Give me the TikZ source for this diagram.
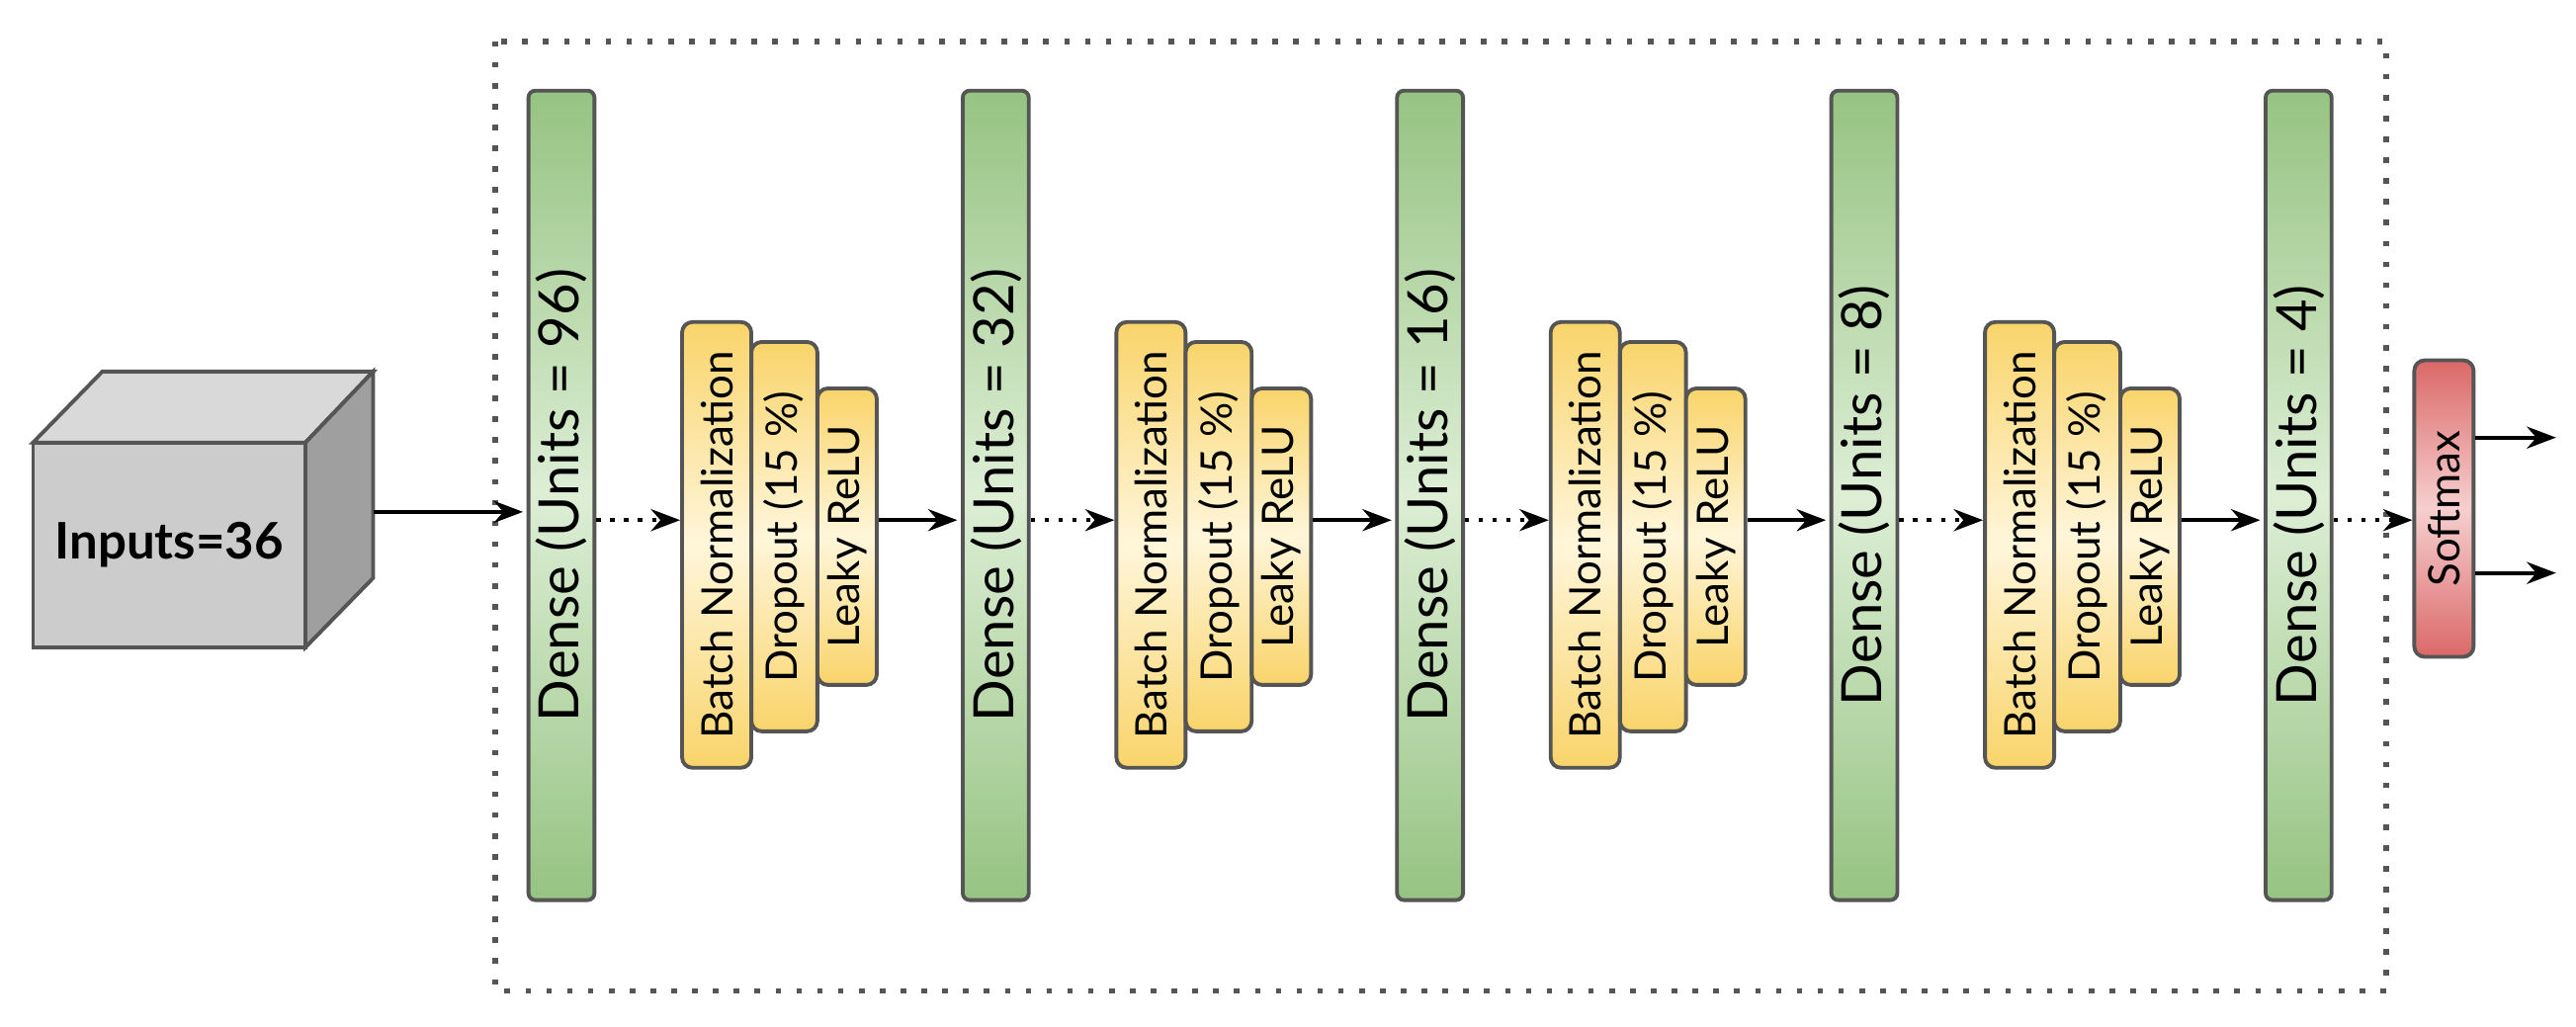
\documentclass[tikz,border=0pt]{standalone}
\usepackage{fontspec}
\setmainfont{Lato}
\usetikzlibrary{arrows.meta}
\usepackage{xcolor}
\definecolor{edgegray}{HTML}{555555}
\definecolor{densegreen}{HTML}{96C382}
\definecolor{denselight}{HTML}{DDEED5}
\definecolor{actyellow}{HTML}{F9D46A}
\definecolor{actlight}{HTML}{FFF6DA}
\definecolor{softred}{HTML}{DB6868}
\definecolor{softlight}{HTML}{F6CFCF}

\begin{document}
\begin{tikzpicture}[>=Stealth,x=0.016705cm,y=-0.016705cm,
  box/.style={draw=edgegray,line width=1.1pt,rotate=90,inner sep=0pt},
  dense/.style={box,rounded corners=2pt,
    top color=densegreen,bottom color=densegreen,middle color=denselight,
    minimum width=8.19cm,minimum height=0.668cm,
    font=\fontsize{16}{18}\selectfont},
  act/.style={box,rounded corners=3pt,
    top color=actyellow,bottom color=actyellow,middle color=actlight,
    font=\fontsize{12.5}{14}\selectfont},
  flow/.style={->,line width=1.2pt,shorten >=1pt},
  dflow/.style={->,line width=1.2pt,dash pattern=on 1.2pt off 2.8pt}]
\useasboundingbox (0,0) rectangle (1560,621.4);

% input cube
\fill[gray!30,draw=edgegray,line width=1.1pt] (20,268) -- (62,225) -- (226,225) -- (185,268) -- cycle;
\fill[gray!75,draw=edgegray,line width=1.1pt] (185,268) -- (226,225) -- (226,350) -- (185,392) -- cycle;
\node[draw=edgegray,fill=gray!40,line width=1.1pt,minimum width=2.756cm,minimum height=2.07cm,
  inner sep=0pt,font=\fontsize{14.5}{17}\selectfont\bfseries] (inp) at (102.5,330) {Inputs=36};
\coordinate (side) at (226,310);

% dotted frame
\draw[edgegray,line width=1.6pt,dash pattern=on 1.6pt off 4.4pt] (300,25) rectangle (1445,600);

% dense layers
\foreach \i/\u in {1/96,2/32,3/16,4/8,5/4}
  \node[dense] (d\i) at ({340+263*(\i-1)},300) {Dense (Units = \u)};

% batch norm, dropout, leaky relu
\foreach \i in {1,...,4}{
  \node[act,minimum width=4.51cm,minimum height=0.70cm] (bn\i) at ({434+263*(\i-1)},330) {Batch Normalization};
  \node[act,minimum width=3.94cm,minimum height=0.668cm] (do\i) at ({475+263*(\i-1)},325) {Dropout (15 \%)};
  \node[act,minimum width=3.0cm,minimum height=0.60cm] (lr\i) at ({513+263*(\i-1)},325) {Leaky ReLU};
}

\node[box,rounded corners=3pt,top color=softred,bottom color=softred,middle color=softlight,
  minimum width=3.0cm,minimum height=0.60cm,font=\fontsize{12.5}{14}\selectfont] (sm) at (1480,308) {Softmax};

\coordinate (lvl) at (0,315);
\coordinate (out1) at (1550,265);
\coordinate (out2) at (1550,347);

% connectors
\draw[flow] (side) -- (d1.north |- side);
\foreach \i [evaluate=\i as \j using int(\i+1)] in {1,...,4}{
  \draw[dflow] (d\i.south |- lvl) -- (bn\i.north |- lvl);
  \draw[flow] (lr\i.south |- lvl) -- (d\j.north |- lvl);
}
\draw[dflow] (d5.south |- lvl) -- (sm.north |- lvl);
\draw[flow] (sm.south |- out1) -- (out1);
\draw[flow] (sm.south |- out2) -- (out2);
\end{tikzpicture}
\end{document}
